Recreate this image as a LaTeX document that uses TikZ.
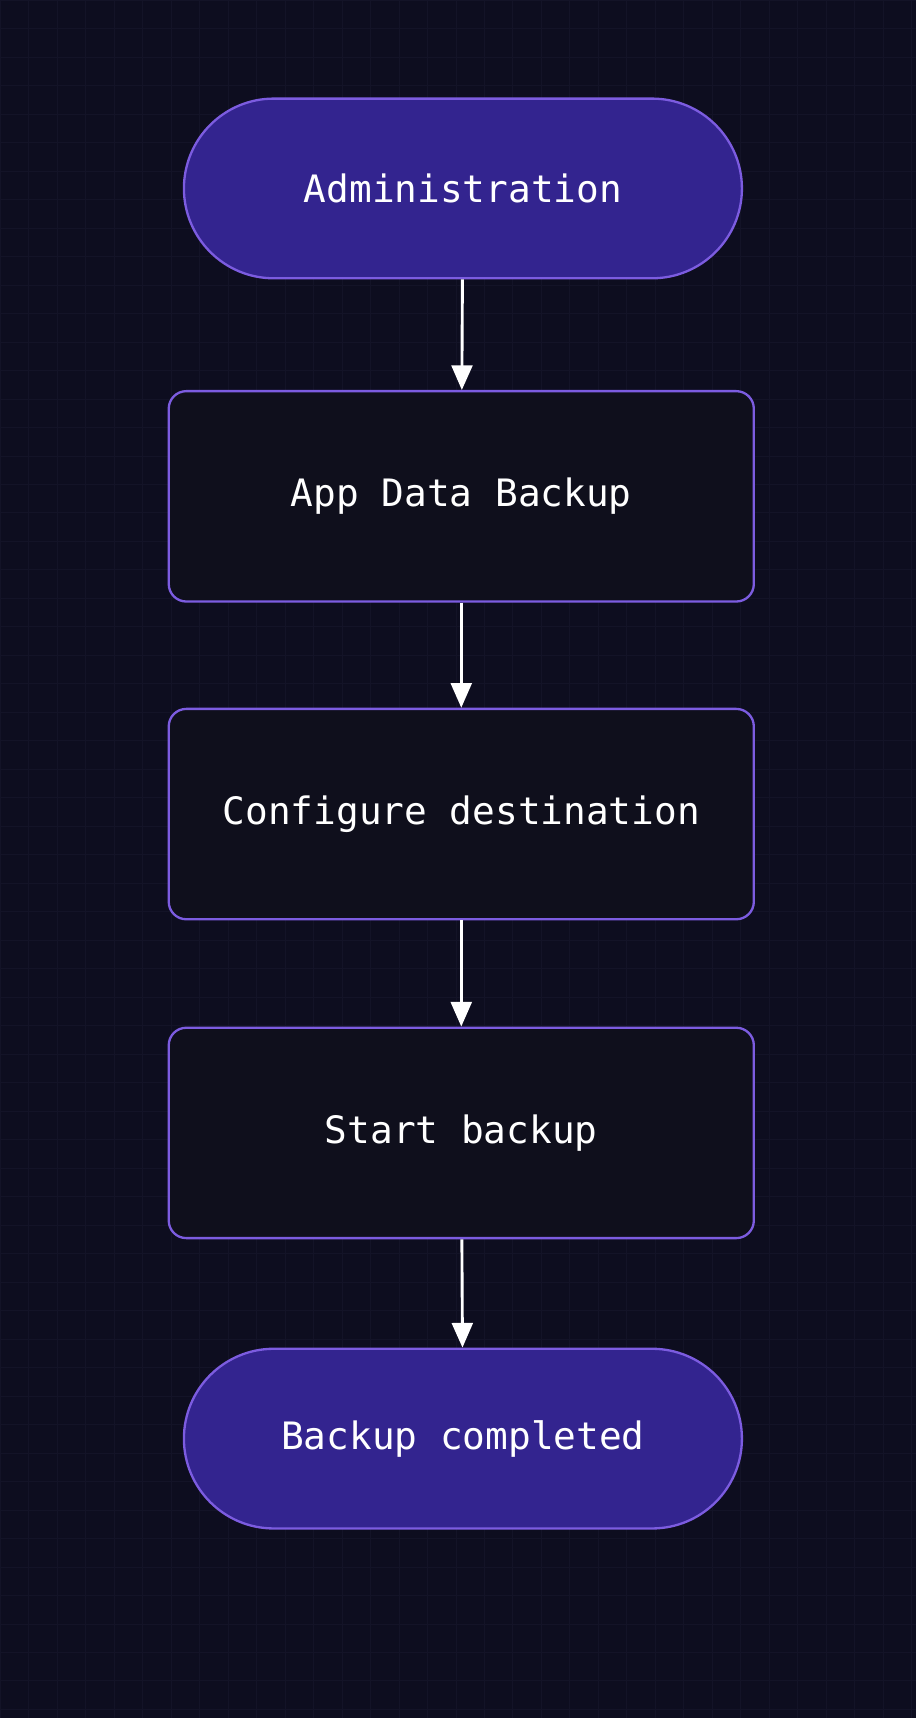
\documentclass[tikz,border=0pt]{standalone}
\usepackage{fontspec}
\setmonofont{DejaVu Sans Mono}
\usetikzlibrary{positioning,shapes.misc,arrows.meta}
\definecolor{bg}{HTML}{0D0D1F}
\definecolor{gridc}{HTML}{131327}
\definecolor{term}{HTML}{33248F}
\definecolor{edge}{HTML}{7C5CE0}
\definecolor{step}{HTML}{0F0F1C}

\tikzset{
  terminal/.style={shape=rounded rectangle, draw=edge, line width=1.2pt, fill=term,
    minimum width=10.42cm, minimum height=3.28cm, text=white,
    font=\ttfamily\fontsize{19.6}{22}\selectfont},
  process/.style={shape=rectangle, rounded corners=0.32cm, draw=edge, line width=1.2pt,
    fill=step, minimum width=10.68cm, minimum height=3.84cm, text=white,
    font=\ttfamily\fontsize{19.6}{22}\selectfont},
  flow/.style={-{Triangle[length=0.45cm,width=0.38cm]}, white, line width=1.5pt}
}

\begin{document}
\begin{tikzpicture}
    \fill[bg] (0,0) rectangle (16.72,-31.36);
    \useasboundingbox (0,0) rectangle (16.72,-31.36);
    % faint background grid
    \foreach \x in {0,0.52,...,16.72} \draw[gridc, line width=0.3pt] (\x,0) -- (\x,-31.36);
    \foreach \y in {0,0.52,...,31.36} \draw[gridc, line width=0.3pt] (0,-\y) -- (16.72,-\y);

    \node at (8.45, -3.44) (admin) [terminal] {Administration};
    \node at (8.42, -9.06) (appdata) [process] {App Data Backup};
    \node at (8.42, -14.86) (config) [process] {Configure destination};
    \node at (8.42, -20.68) (start) [process] {Start backup};
    \node at (8.45, -26.26) (done) [terminal] {Backup completed};

    \draw[flow] (admin) -- (appdata);
    \draw[flow] (appdata) -- (config);
    \draw[flow] (config) -- (start);
    \draw[flow] (start) -- (done);
\end{tikzpicture}
\end{document}
